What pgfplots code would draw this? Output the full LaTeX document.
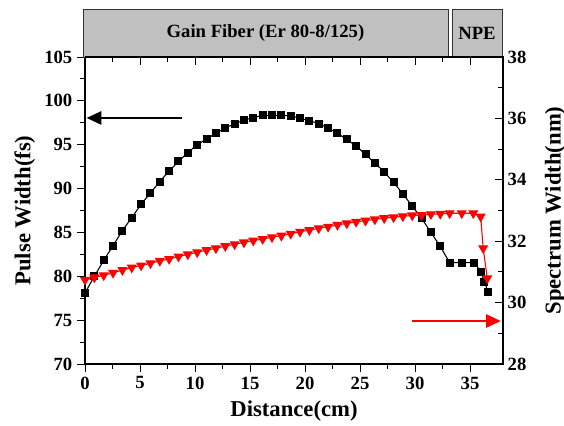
\documentclass[border=0pt]{standalone}
\usepackage{fontspec}
\setmainfont{Liberation Serif}
\usepackage{pgfplots}
\pgfplotsset{compat=1.18}
\usetikzlibrary{arrows.meta}
\definecolor{boxgray}{RGB}{192,192,192}

% pulse width (fs) along the fiber
\pgfplotstableread{
x y
0.00 78.1
0.85 80.0
1.70 81.8
2.55 83.5
3.40 85.2
4.25 86.7
5.10 88.2
5.95 89.5
6.80 90.8
7.65 92.0
8.50 93.1
9.35 94.1
10.20 95.0
11.05 95.65
11.90 96.3
12.75 96.9
13.60 97.4
14.45 97.8
15.30 98.1
16.15 98.35
17.00 98.35
17.85 98.35
18.70 98.3
19.55 98.0
20.40 97.75
21.25 97.4
22.10 96.9
22.95 96.3
23.80 95.6
24.65 94.85
25.50 93.9
26.35 92.9
27.20 91.9
28.05 90.7
28.90 89.4
29.75 88.0
30.60 86.6
31.45 85.0
32.30 83.4
33.15 81.55
34.25 81.55
35.40 81.55
36.00 80.5
36.30 79.4
36.65 78.2
}\pulse

% spectrum width (nm)
\pgfplotstableread{
x y
0.00 30.74
0.85 30.82
1.70 30.89
2.55 30.97
3.40 31.06
4.25 31.14
5.10 31.21
5.95 31.28
6.80 31.36
7.65 31.42
8.50 31.50
9.35 31.57
10.20 31.64
11.05 31.71
11.90 31.77
12.75 31.84
13.60 31.90
14.45 31.96
15.30 32.02
16.15 32.07
17.00 32.13
17.85 32.18
18.70 32.24
19.55 32.31
20.40 32.36
21.25 32.42
22.10 32.47
22.95 32.53
23.80 32.58
24.65 32.63
25.50 32.67
26.35 32.71
27.20 32.75
28.05 32.78
28.90 32.81
29.75 32.84
30.60 32.85
31.45 32.88
32.30 32.89
33.15 32.91
34.25 32.91
35.30 32.91
35.97 32.80
36.20 31.77
36.57 30.79
}\spectrum

\begin{document}
\begin{tikzpicture}
\pgfplotsset{
  every axis/.append style={
    scale only axis, width=313.5pt, height=230.25pt,
    xmin=0, xmax=38,
    xtick={0,5,...,35}, minor x tick num=1,
    minor y tick num=1,
    major tick length=6pt, minor tick length=3.5pt,
    every tick/.style={black, line width=0.7pt},
    axis line style={line width=0.8pt},
    /pgf/number format/assume math mode=true,
    tick label style={font=\fontsize{14}{14}\selectfont\bfseries},
    label style={font=\fontsize{17}{17}\selectfont\bfseries},
  },
}
\begin{axis}[
  ymin=70, ymax=105, ytick={70,75,...,105},
  tick pos=left, tick align=outside,
  xlabel={Distance(cm)}, ylabel={Pulse Width(fs)},
  xlabel style={yshift=-2pt},
  clip=false,
]
\coordinate (bl) at (rel axis cs:0,0);
\coordinate (tr) at (rel axis cs:1,1);
\draw[fill=boxgray, draw=black!80, line width=0.6pt] (rel axis cs:-0.005,1) rectangle (rel axis cs:0.8684,1.156)
  node[midway, font=\fontsize{14}{14}\selectfont\bfseries] {Gain Fiber (Er 80-8/125)};
\draw[fill=boxgray, draw=black!80, line width=0.6pt] (rel axis cs:0.878,1) rectangle (rel axis cs:0.9976,1.156)
  node[midway, font=\fontsize{14}{14}\selectfont\bfseries] {NPE};
\addplot[black, line width=0.8pt, mark=square*, mark size=2.6pt] table[x=x,y=y] {\pulse};
\draw[black, line width=1.1pt, -{Triangle[length=11pt,width=10pt]}] (axis cs:8.8,98.05) -- (axis cs:0.15,98.05);
\draw[red, line width=1.1pt, -{Triangle[length=11pt,width=10pt]}] (axis cs:29.7,74.9) -- (axis cs:37.8,74.9);
\end{axis}
\begin{axis}[
  ymin=28, ymax=38, ytick={28,30,...,38},
  axis x line*=top, axis y line*=right,
  tick align=inside, xticklabel=\empty,
  ylabel={Spectrum Width(nm)},
  ylabel style={yshift=-7pt},
  clip=false,
]
\addplot[red, line width=0.8pt, mark=triangle*, mark size=3.6pt, mark options={rotate=180}] table[x=x,y=y] {\spectrum};
\end{axis}
\pgfresetboundingbox
\path ([xshift=-63.75pt,yshift=-45.75pt]bl) rectangle ([xshift=45.75pt,yshift=42.75pt]tr);
\end{tikzpicture}
\end{document}
